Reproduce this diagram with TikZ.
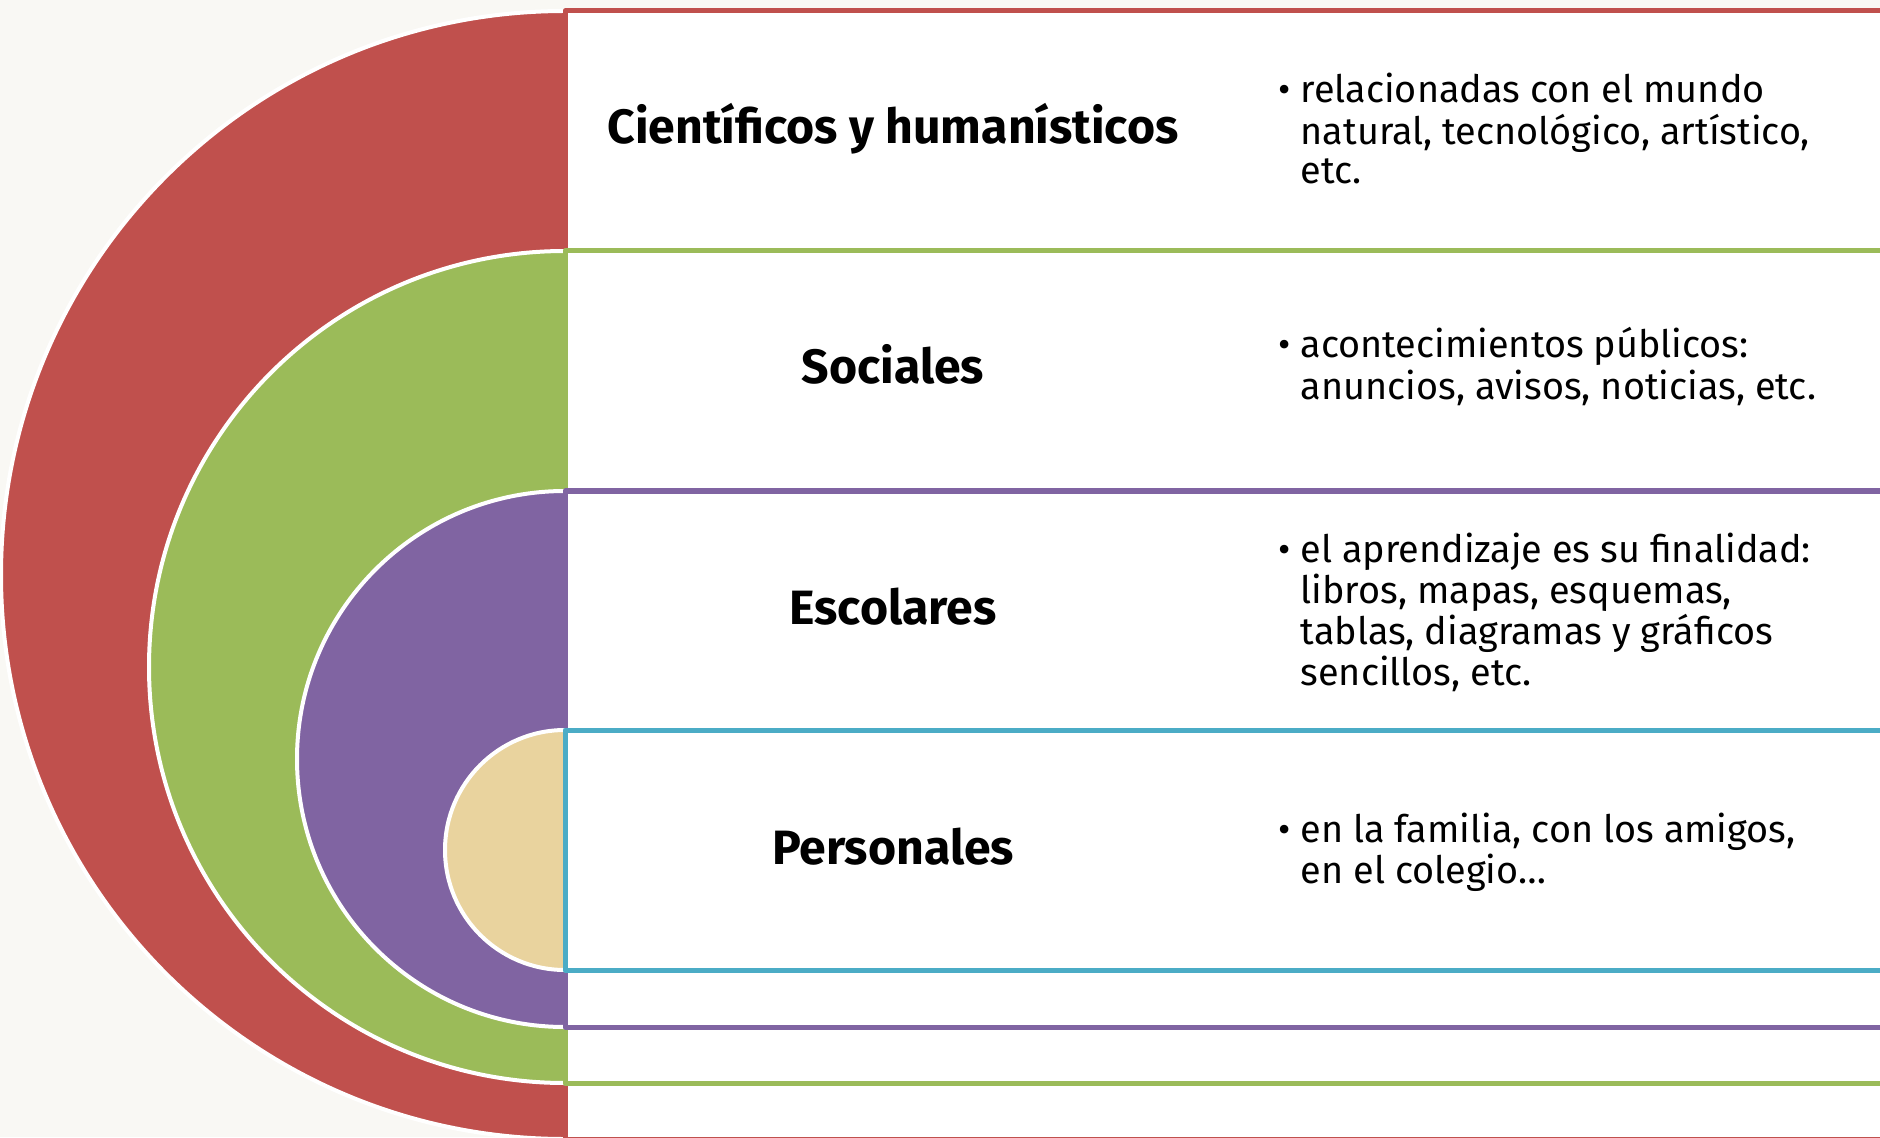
\documentclass[tikz,border=0pt]{standalone}
\usepackage{fontspec}
\setmainfont{Fira Sans}
\definecolor{fondo}{RGB}{249,248,244}
\definecolor{rojo}{RGB}{192,80,77}
\definecolor{verde}{RGB}{155,187,89}
\definecolor{morado}{RGB}{128,100,162}
\definecolor{azul}{RGB}{75,172,198}
\definecolor{papiro}{RGB}{233,211,158}
\tikzset{
  titulo/.style={font=\bfseries\fontsize{13.7}{16}\selectfont, anchor=base, inner sep=0pt},
  lista/.style={font=\fontsize{10.75}{10.95}\selectfont, anchor=base west, inner sep=0pt},
}
\newcommand{\punto}{\llap{\textbullet\hspace{0.1cm}}}
\begin{document}
\begin{tikzpicture}[x=0.01cm, y=-0.01cm, line join=round]
\def\xr{565} \def\xe{1882}
\def\xt{893} \def\xb{1300}
\useasboundingbox (0,0) rectangle (1880,1137);
\clip (0,0) rectangle (1880,1137);
\fill[fondo] (0,0) rectangle (1880,1137);
% semicirculos y bandas, de fuera a dentro
\foreach \relleno/\borde/\ya/\yb in {rojo/rojo/11/1139, verde/verde/251/1083, morado/morado/491/1027, papiro/azul/730/970}{
  \pgfmathsetmacro\rad{(\yb-\ya)/2}
  \draw[white, line width=0.04cm, fill=\relleno] (\xr,\yb) arc[start angle=90, end angle=270, radius=\rad] -- cycle;
  \draw[\borde, line width=0.05cm, fill=white] (\xr,\ya) rectangle (\xe,\yb);
}
\node[titulo] (cientificos) at (\xt,144) {Científicos y humanísticos};
\node[titulo] (sociales) at (\xt,384) {Sociales};
\node[titulo] (escolares) at (\xt,624) {Escolares};
\node[titulo] (personales) at (\xt,864) {Personales};
\node[lista] (txtcientificos) at (\xb,103) {\begin{tabular}[t]{@{}l@{}}\punto relacionadas con el mundo\\ natural, tecnológico, artístico,\\ etc.\end{tabular}};
\node[lista] (txtsociales) at (\xb,358) {\begin{tabular}[t]{@{}l@{}}\punto acontecimientos públicos:\\ anuncios, avisos, noticias, etc.\end{tabular}};
\node[lista] (txtescolares) at (\xb,562) {\begin{tabular}[t]{@{}l@{}}\punto el aprendizaje es su finalidad:\\ libros, mapas, esquemas,\\ tablas, diagramas y gráficos\\ sencillos, etc.\end{tabular}};
\node[lista] (txtpersonales) at (\xb,842) {\begin{tabular}[t]{@{}l@{}}\punto en la familia, con los amigos,\\ en el colegio…\end{tabular}};
\end{tikzpicture}
\end{document}
